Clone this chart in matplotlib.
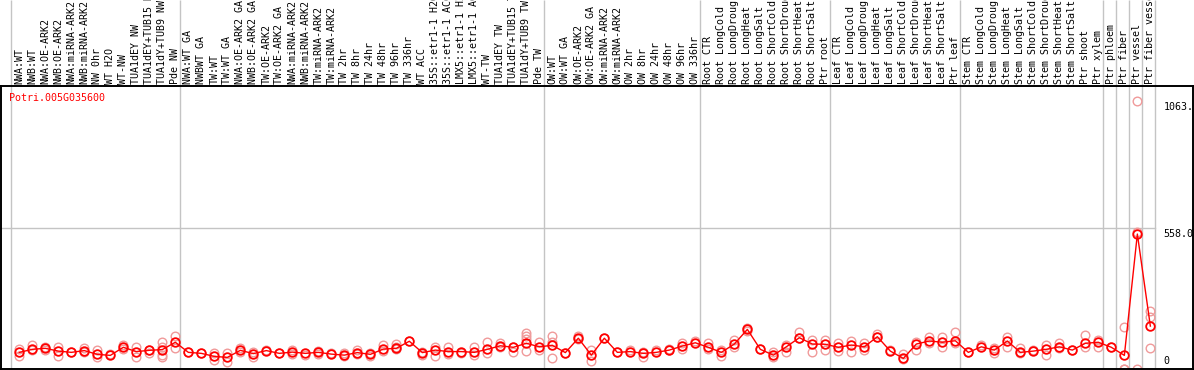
import matplotlib

matplotlib.use("Agg")
import matplotlib.pyplot as plt
import numpy as np

# sample labels, grouped the way the separators split them
group_nw = ["NWA:WT", "NWB:WT", "NWA:OE-ARK2", "NWB:OE-ARK2", "NWA:miRNA-ARK2",
            "NWB:miRNA-ARK2", "NW 0hr", "WT H2O", "WT-NW", "TUA1dEY NW",
            "TUA1dEY+TUB15 NW", "TUA1dY+TUB9 NW", "Pde NW"]
group_tw = ["NWA:WT GA", "NWBWT GA", "TW:WT", "TW:WT GA", "NWA:OE-ARK2 GA",
            "NWB:OE-ARK2 GA", "TW:OE-ARK2", "TW:OE-ARK2 GA", "NWA:miRNA-ARK2",
            "NWB:miRNA-ARK2", "TW:miRNA-ARK2", "TW:miRNA-ARK2", "TW 2hr", "TW 8hr",
            "TW 24hr", "TW 48hr", "TW 96hr", "TW 336hr", "WT ACC", "35S::etr1-1 H2O",
            "35S::etr1-1 ACC", "LMX5::etr1-1 H2O", "LMX5::etr1-1 ACC", "WT-TW",
            "TUA1dEY TW", "TUA1dEY+TUB15 TW", "TUA1dY+TUB9 TW", "Pde TW"]
group_ow = ["OW:WT", "OW:WT GA", "OW:OE-ARK2", "OW:OE-ARK2 GA", "OW:miRNA-ARK2",
            "OW:miRNA-ARK2", "OW 2hr", "OW 8hr", "OW 24hr", "OW 48hr", "OW 96hr",
            "OW 336hr"]
group_root = ["Root CTR", "Root LongCold", "Root LongDrought", "Root LongHeat",
              "Root LongSalt", "Root ShortCold", "Root ShortDrought", "Root ShortHeat",
              "Root ShortSalt", "Ptr root"]
group_leaf = ["Leaf CTR", "Leaf LongCold", "Leaf LongDrought", "Leaf LongHeat",
              "Leaf LongSalt", "Leaf ShortCold", "Leaf ShortDrought", "Leaf ShortHeat",
              "Leaf ShortSalt", "Ptr leaf"]
group_stem = ["Stem CTR", "Stem LongCold", "Stem LongDrought", "Stem LongHeat",
              "Stem LongSalt", "Stem ShortCold", "Stem ShortDrought", "Stem ShortHeat",
              "Stem ShortSalt", "Ptr shoot", "Ptr xylem"]
group_phloem = ["Ptr phloem"]
group_fiber = ["Ptr fiber"]
group_vessel = ["Ptr vessel"]
group_fvessel = ["Ptr fiber vessel"]

groups = [group_nw, group_tw, group_ow, group_root, group_leaf, group_stem,
          group_phloem, group_fiber, group_vessel, group_fvessel]

# mean expression per sample
means = [66, 78, 82, 71, 66, 73, 58, 54, 86, 69, 74, 77, 106,
         66, 62, 50, 46, 74, 61, 73, 62, 67, 62, 66, 59, 55, 65, 58, 79, 82, 110,
         65, 75, 69, 69, 66, 78, 92, 86, 102, 88,
         94, 65, 122, 55, 122, 66, 69, 62, 66, 75, 91, 104,
         86, 66, 99, 157, 78, 55, 88, 124, 99, 98,
         86, 95, 88, 128, 71, 42, 99, 111, 106, 112,
         66, 88, 75, 111, 66, 71, 78, 88, 75, 102, 106,
         86, 54, 535, 170]

# individual replicates (only the ones that stand apart from the mean)
replicates = [
    [79, 52], [95, 75], [88, 75], [88, 52], [68], [84, 66], [75, 49], [58],
    [95, 78], [88, 46], [75, 65], [108, 88, 55, 49], [131, 84],
    [66], [62], [62, 36], [62, 29], [84, 69], [69, 49], [75], [62], [75, 58],
    [55], [72, 58], [62], [62, 50], [75, 58], [65, 52], [95, 73], [99, 88, 78],
    [110], [69, 55], [86, 52], [86, 59], [62], [86, 55], [108, 65], [102, 88],
    [88, 69], [141, 131, 118, 73], [108, 75],
    [131, 108, 42], [65], [131, 118], [75, 33], [122], [69], [75], [69, 49],
    [75], [80, 75], [102, 78], [112],
    [102, 78], [75, 52], [115, 88], [162, 150], [78], [69, 46], [95, 66],
    [146, 122], [115, 69], [115, 75],
    [102, 73], [112, 69], [102, 75], [140, 128], [75], [60, 38], [108, 75],
    [126, 102], [128, 88], [146, 102],
    [66], [95], [84, 65], [128, 88], [82, 65], [75], [95, 55], [102, 82], [75],
    [135, 88], [115, 88],
    [86], [168, 0, 0], [1063, 0, 542], [231, 205, 82],
]

gene_id = "Potri.005G035600"
scale_values = [1063.0, 558.0, 0.0]
scale_labels = ["1063.", "558.0", "0"]
grid_value = 558.0

RED = "#ff0000"
PINK = "#f09a9a"
GREY = "#c4c4c4"
FONT = "DejaVu Sans Mono"

labels = [name for g in groups for name in g]
x = np.arange(len(labels))

# separator positions: one before the first sample and one after each group
ends = np.cumsum([len(g) for g in groups]) - 1
separators = [-0.65] + list(ends + 0.385)

fig = plt.figure(figsize=(11.94, 3.70), dpi=100)
ax = fig.add_axes([1 / 1194, 1 / 370, 1192 / 1194, 283 / 370])
ax.set_xlim(-1.41, 90.28)
ax.set_ylim(0, 1122)
ax.set_xticks([])
ax.set_yticks([])
for sp in ax.spines.values():
    sp.set_color("black")
    sp.set_linewidth(1.4)

# group separators run through the label strip as well
top_frac = 369 / 283
ax.vlines(separators, 0, top_frac, transform=ax.get_xaxis_transform(),
          color=GREY, lw=1.0, clip_on=False, zorder=1)
ax.plot([-1.41, separators[-1]], [grid_value, grid_value], color=GREY, lw=1.0, zorder=1)

for xi, reps in zip(x, replicates):
    ax.plot([xi] * len(reps), reps, "o", ms=6.2, mfc="none", mec=PINK, mew=1.0, zorder=2)

ax.plot(x, means, "-", color=RED, lw=1.0, zorder=3)
ax.plot(x, means, "o", ms=6.2, mfc="none", mec=RED, mew=1.3, zorder=4)

for xi, name in zip(x, labels):
    ax.annotate(name, xy=(xi, 1), xycoords=ax.get_xaxis_transform(),
                xytext=(0, 2), textcoords="offset pixels", rotation=90,
                ha="center", va="bottom", fontsize=7.2, family=FONT,
                annotation_clip=False)

ax.annotate(gene_id, xy=(0, 1), xycoords="axes fraction", xytext=(8, -7),
            textcoords="offset pixels", ha="left", va="top", color=RED,
            fontsize=7.2, family=FONT)

for val, txt in zip(scale_values, scale_labels):
    va = "bottom" if val == 0 else "top"
    dy = 3 if val == 0 else -1
    ax.annotate(txt, xy=(x[-1], val), xytext=(13, dy), textcoords="offset pixels",
                ha="left", va=va, fontsize=7.2, family=FONT, color="black")

fig.savefig("out.png", dpi=100)
